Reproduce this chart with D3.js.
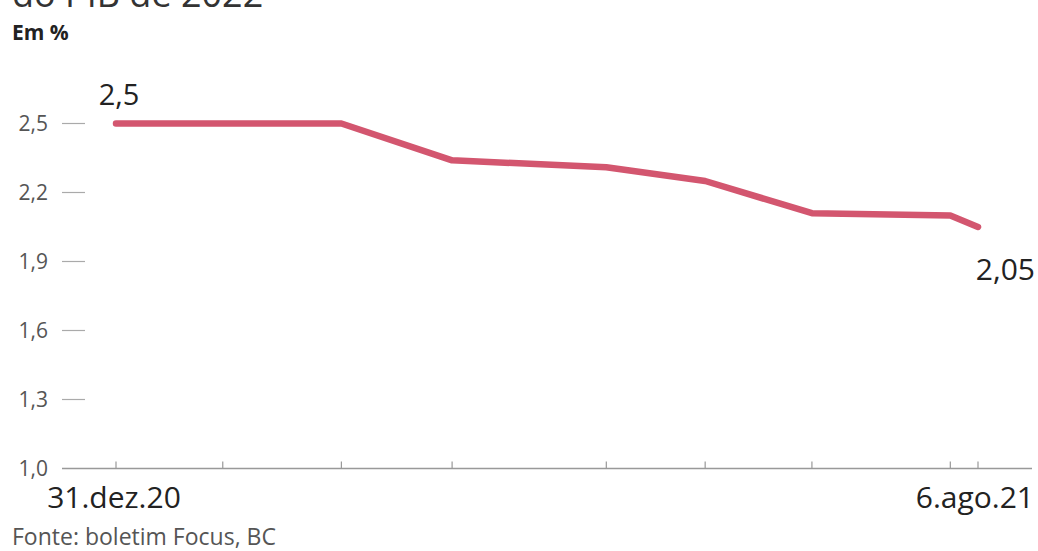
<!DOCTYPE html>
<html>
<head>
<meta charset="utf-8">
<script src="https://cdn.jsdelivr.net/npm/d3@7"></script>
<style>
  html, body { margin: 0; padding: 0; background: #fff; }
  svg { display: block; font-family: "Open Sans", "Noto Sans", sans-serif; }
</style>
</head>
<body>
<svg id="chart" width="1038" height="551"></svg>
<script>
// ---- data ----
const dates = ["2020-12-31", "2021-01-27", "2021-02-26", "2021-03-26", "2021-05-04",
               "2021-05-29", "2021-06-25", "2021-07-30", "2021-08-06"];
const values = [2.5, 2.5, 2.5, 2.34, 2.31, 2.25, 2.11, 2.10, 2.05];
const yTicks = [1.0, 1.3, 1.6, 1.9, 2.2, 2.5];
const xLabels = ["31.dez.20", "6.ago.21"];
const endLabels = ["2,5", "2,05"];
const titleText = "do PIB de 2022";
const unitText = "Em %";
const sourceText = "Fonte: boletim Focus, BC";

const parse = d3.timeParse("%Y-%m-%d");
const data = dates.map((d, i) => ({ date: parse(d), value: values[i] }));

const svg = d3.select("#chart");

const x = d3.scaleTime()
  .domain([data[0].date, data[data.length - 1].date])
  .range([116, 978]);
const y = d3.scaleLinear().domain([1.0, 2.5]).range([468.5, 123.5]);

const fmt = v => d3.format(".1f")(v).replace(".", ",");

// title (cut off at top, as in the reference)
svg.append("text").attr("x", 12).attr("y", 7)
  .attr("font-size", 36).attr("fill", "#333").text(titleText);
svg.append("text").attr("x", 12).attr("y", 40)
  .attr("font-size", 21).attr("font-weight", 700).attr("fill", "#222").text(unitText);

// y axis: labels + short dashes
const yAxis = svg.append("g");
yAxis.selectAll("text").data(yTicks).join("text")
  .attr("x", 48).attr("y", d => y(d)).attr("dy", "0.35em")
  .attr("text-anchor", "end").attr("font-size", 21).attr("fill", "#555")
  .text(fmt);
yAxis.selectAll("line").data(yTicks.filter(d => d !== 1.0)).join("line")
  .attr("x1", 62).attr("x2", 85)
  .attr("y1", d => y(d)).attr("y2", d => y(d))
  .attr("stroke", "#aaa").attr("stroke-width", 1.2);

// x axis baseline and ticks
const base = y(1.0);
svg.append("line").attr("x1", 62).attr("x2", 1032)
  .attr("y1", base).attr("y2", base)
  .attr("stroke", "#999").attr("stroke-width", 1.6);
svg.append("g").selectAll("line").data(data).join("line")
  .attr("x1", d => x(d.date)).attr("x2", d => x(d.date))
  .attr("y1", base).attr("y2", base - 7)
  .attr("stroke", "#999").attr("stroke-width", 1.2);

// x labels
svg.append("text").attr("x", x(data[0].date) - 2).attr("y", 508)
  .attr("text-anchor", "middle").attr("font-size", 30).attr("fill", "#222")
  .text(xLabels[0]);
svg.append("text").attr("x", 1034).attr("y", 508)
  .attr("text-anchor", "end").attr("font-size", 30).attr("fill", "#222")
  .text(xLabels[1]);

// line
const line = d3.line().x(d => x(d.date)).y(d => y(d.value));
svg.append("path").datum(data)
  .attr("d", line)
  .attr("fill", "none")
  .attr("stroke", "#d3566f")
  .attr("stroke-width", 6.5)
  .attr("stroke-linejoin", "round")
  .attr("stroke-linecap", "round");

// end labels
svg.append("text").attr("x", x(data[0].date) + 3).attr("y", y(data[0].value) - 19)
  .attr("text-anchor", "middle").attr("font-size", 29).attr("fill", "#222")
  .text(endLabels[0]);
svg.append("text").attr("x", 1035).attr("y", y(data[data.length - 1].value) + 53)
  .attr("text-anchor", "end").attr("font-size", 30).attr("fill", "#222")
  .text(endLabels[1]);

// source
svg.append("text").attr("x", 12).attr("y", 545)
  .attr("font-size", 23).attr("fill", "#555").text(sourceText);
</script>
</body>
</html>
